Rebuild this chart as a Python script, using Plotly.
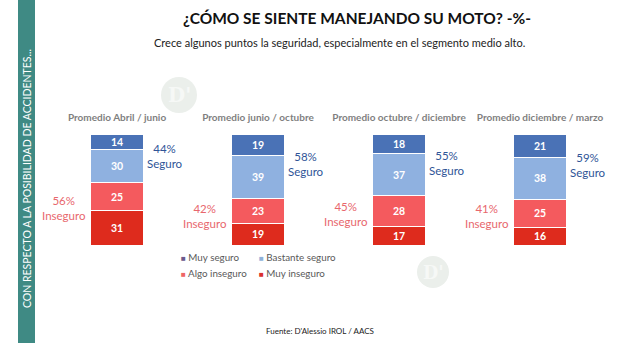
import plotly.graph_objects as go

W, H = 626, 346

# Survey periods and answer shares (%)
periodos = [
    "Promedio Abril / junio",
    "Promedio junio / octubre",
    "Promedio octubre / diciembre",
    "Promedio diciembre / marzo",
]
muy_seguro = [14, 19, 18, 21]
bastante_seguro = [30, 39, 37, 38]
algo_inseguro = [25, 23, 28, 25]
muy_inseguro = [31, 19, 17, 16]

# Stacked from the bottom up
series = [
    ("Muy inseguro", muy_inseguro, "#de2b1d"),
    ("Algo inseguro", algo_inseguro, "#f45a5e"),
    ("Bastante seguro", bastante_seguro, "#8fb1e0"),
    ("Muy seguro", muy_seguro, "#4a72b6"),
]

# Legend swatches (two rows of two entries)
legend_rows = [
    [("Muy seguro", "#6b5b8c"), ("Bastante seguro", "#8fb1d9")],
    [("Algo inseguro", "#ee6666"), ("Muy inseguro", "#d9302b")],
]

seguro = [a + b for a, b in zip(muy_seguro, bastante_seguro)]
inseguro = [a + b for a, b in zip(algo_inseguro, muy_inseguro)]
totales = [s + i for s, i in zip(seguro, inseguro)]

FONT = "Lato"


def px_x(px):
    return px / W


def px_y(py):
    return 1 - py / H


fig = go.Figure()
for name, vals, color in series:
    fig.add_trace(go.Bar(
        x=periodos,
        y=vals,
        name=name,
        width=0.38,
        marker=dict(color=color, line=dict(color="white", width=1)),
        text=[str(v) for v in vals],
        textposition="inside",
        insidetextanchor="middle",
        textangle=0,
        textfont=dict(family=FONT, size=10.5, color="white", weight="bold"),
        showlegend=False,
        hoverinfo="skip",
    ))

annotations = []

# Grouped totals beside each bar
for i, p in enumerate(periodos):
    annotations.append(dict(
        x=p, y=totales[i] - seguro[i] / 2, xref="x", yref="y",
        xshift=48, yshift=2,
        text=f"{seguro[i]}%<br>Seguro", showarrow=False, align="center",
        font=dict(family=FONT, size=11.5, color="#2f5597"),
    ))
    annotations.append(dict(
        x=p, y=inseguro[i] / 2, xref="x", yref="y",
        xshift=-53, yshift=6,
        text=f"{inseguro[i]}%<br>Inseguro", showarrow=False, align="center",
        font=dict(family=FONT, size=11.5, color="#e8676d"),
    ))


def paper_text(x, y, text, size, color, **kw):
    d = dict(
        x=px_x(x), y=px_y(y), xref="paper", yref="paper",
        xanchor="center", yanchor="middle",
        text=text, showarrow=False,
        font=dict(family=FONT, size=size, color=color),
    )
    d.update(kw)
    return d


# Title and subtitle
annotations.append(paper_text(357, 18, "<b>¿CÓMO SE SIENTE MANEJANDO SU MOTO? -%-</b>", 15.5, "#111111"))
annotations.append(paper_text(339, 42, "Crece algunos puntos la seguridad, especialmente en el segmento medio alto.",
                              11, "#222222"))

# Legend
row_y = [257, 273]
col_x = [179, 257]
for r, row in enumerate(legend_rows):
    for c, (label, color) in enumerate(row):
        annotations.append(paper_text(
            col_x[c], row_y[r],
            f"<span style='color:{color};font-size:8px'>■</span> {label}",
            9.8, "#595959", xanchor="left",
        ))

# Source
annotations.append(paper_text(320, 331, "Fuente: D'Alessio IROL / AACS", 8, "#222222"))

# Vertical side band text
annotations.append(paper_text(27, 179, "CON RESPECTO A LA POSIBILIDAD DE ACCIDENTES...",
                              10.5, "white", textangle=-90))

# Faint brand marks in the background
marks = [(179, 95, 18), (433, 272, 16)]
for cx, cy, r in marks:
    annotations.append(paper_text(cx, cy, "<b>D'</b>", r * 1.1, "#f6f8f6",
                                  font=dict(family="DejaVu Serif", size=r * 1.1, color="#f6f8f6")))

shapes = [dict(
    type="rect", xref="paper", yref="paper",
    x0=px_x(18), x1=px_x(35), y0=px_y(343), y1=1,
    fillcolor="#3f8a84", line=dict(width=0), layer="below",
)]
for cx, cy, r in marks:
    shapes.append(dict(
        type="circle", xref="paper", yref="paper",
        x0=px_x(cx - r), x1=px_x(cx + r), y0=px_y(cy + r), y1=px_y(cy - r),
        fillcolor="#ebefeb", line=dict(width=0), layer="below",
    ))

fig.update_layout(
    width=W, height=H,
    margin=dict(l=0, r=0, t=0, b=0),
    paper_bgcolor="white", plot_bgcolor="rgba(0,0,0,0)",
    barmode="stack",
    showlegend=False,
    uniformtext=dict(minsize=10.5, mode="show"),
    annotations=annotations,
    shapes=shapes,
    xaxis=dict(
        type="category", side="top", range=[-0.83, 3.61],
        showgrid=False, zeroline=False, showline=False, ticks="",
        ticklabelstandoff=10,
        tickfont=dict(family=FONT, size=10, color="#7f7f7f", weight="bold"),
        fixedrange=True,
    ),
    yaxis=dict(
        range=[0, 100], domain=[px_y(245), px_y(134)],
        visible=False, fixedrange=True,
    ),
)

fig.write_html("out.html")
